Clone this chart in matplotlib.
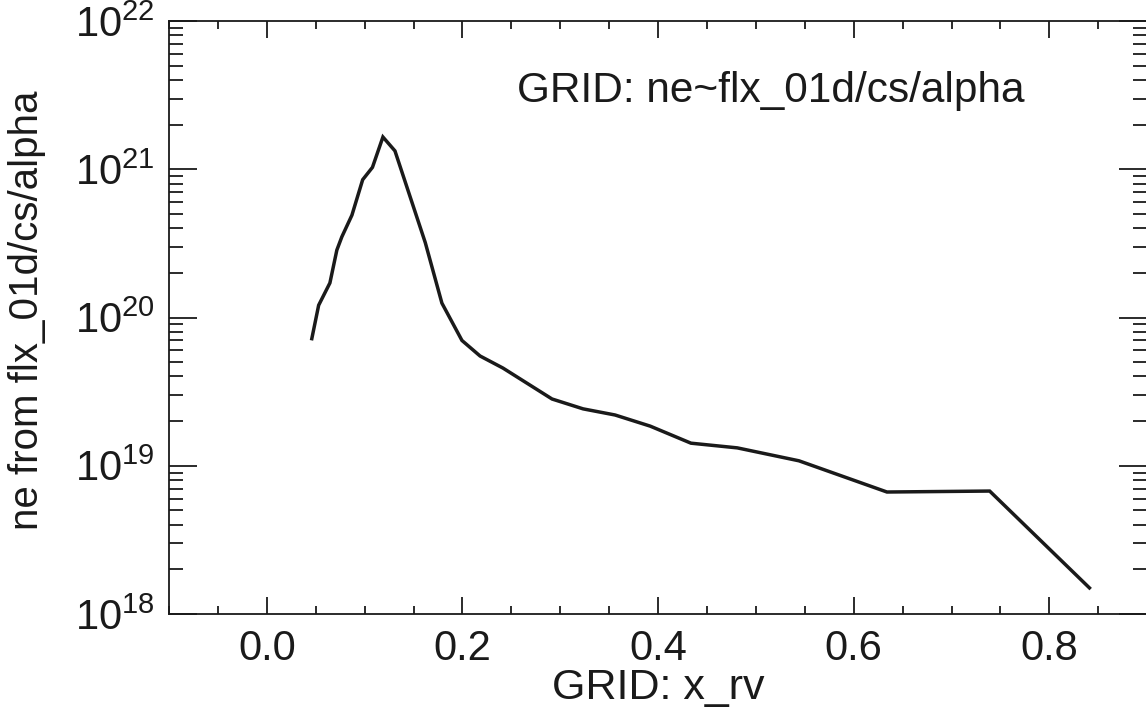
import numpy as np
import matplotlib
matplotlib.use("Agg")
import matplotlib.pyplot as plt
from matplotlib.ticker import MultipleLocator, LogLocator, FixedLocator, NullFormatter

plt.rcParams["font.family"] = ["Liberation Sans", "DejaVu Sans"]
plt.rcParams["mathtext.default"] = "regular"

# values
x_rv = [0.046, 0.053, 0.0645, 0.0716, 0.0767, 0.087, 0.098, 0.108, 0.1187, 0.131,
        0.162, 0.179, 0.1995, 0.218, 0.2414, 0.2916, 0.3233, 0.356, 0.392, 0.4336,
        0.481, 0.544, 0.634, 0.739, 0.841]
ne = [7.2e19, 1.21e20, 1.71e20, 2.85e20, 3.5e20, 4.9e20, 8.5e20, 1.03e21, 1.65e21, 1.33e21,
      3.2e20, 1.25e20, 7.0e19, 5.5e19, 4.56e19, 2.82e19, 2.42e19, 2.2e19, 1.85e19, 1.42e19,
      1.32e19, 1.08e19, 6.65e18, 6.75e18, 1.5e18]

xticks = [0.0, 0.2, 0.4, 0.6, 0.8]
ydecades = [18, 19, 20, 21, 22]

fig = plt.figure(figsize=(11.46, 7.28), dpi=100)
ax = fig.add_axes([169 / 1146, 1 - 614 / 728, 1.0 - 169 / 1146 + 0.001, (614 - 21) / 728])

ax.plot(x_rv, ne, color="#1a1a1a", lw=2.5, solid_joinstyle="miter")
ax.set_yscale("log")
ax.set_xlim(-0.1, 0.9)
ax.set_ylim(1e18, 1e22)

ax.xaxis.set_major_locator(FixedLocator(xticks))
ax.set_xticklabels([f"{t:.1f}" for t in xticks])
ax.xaxis.set_minor_locator(MultipleLocator(0.05))
ax.yaxis.set_major_locator(FixedLocator([10.0 ** d for d in ydecades]))
ax.set_yticklabels([f"10$^{{{d}}}$" for d in ydecades])
ax.yaxis.set_minor_locator(LogLocator(base=10, subs=np.arange(2, 10)))
ax.yaxis.set_minor_formatter(NullFormatter())

ax.tick_params(which="both", direction="in", top=True, right=True, colors="#1a1a1a",
               width=1.3, labelsize=30, labelcolor="#1a1a1a")
ax.tick_params(axis="x", which="major", length=12, pad=11)
ax.tick_params(axis="x", which="minor", length=6)
ax.tick_params(axis="y", which="major", length=20, pad=10)
ax.tick_params(axis="y", which="minor", length=10)
for s in ax.spines.values():
    s.set_linewidth(1.3)
    s.set_color("#1a1a1a")

ax.set_xlabel("GRID: x_rv", fontsize=31, color="#1a1a1a", labelpad=-1)
ax.set_ylabel("ne from flx_01d/cs/alpha", fontsize=29, color="#1a1a1a")
ax.yaxis.set_label_coords(-0.126, 0.513)
ax.text(0.256, 2.85e21, "GRID: ne~flx_01d/cs/alpha", fontsize=30.5, color="#1a1a1a",
        va="baseline", ha="left")

fig.savefig("out.png", dpi=100)
